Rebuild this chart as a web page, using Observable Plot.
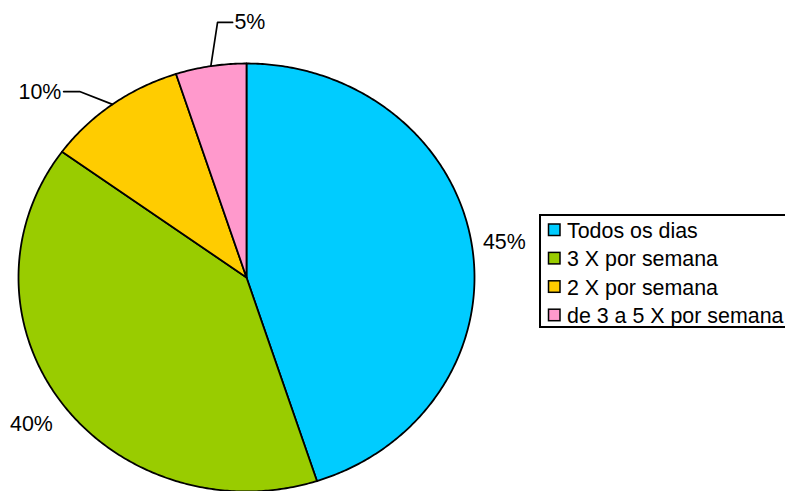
<!DOCTYPE html>
<html>
<head>
<meta charset="utf-8">
<script src="https://cdn.jsdelivr.net/npm/d3@7"></script>
<script src="https://cdn.jsdelivr.net/npm/@observablehq/plot@0.6"></script>
<style>
  html, body { margin: 0; padding: 0; background: #fff; }
  #wrap { position: relative; width: 785px; height: 491px; overflow: hidden; font-family: "Liberation Sans", Arial, sans-serif; }
  #wrap svg { position: absolute; left: 0; top: 0; }
</style>
</head>
<body>
<div id="wrap"></div>
<script>
// ---- data ----
const categories = ["Todos os dias", "3 X por semana", "2 X por semana", "de 3 a 5 X por semana"];
const values = [45, 40, 10, 5];
const labels = ["45%", "40%", "10%", "5%"];
const colors = ["#00CCFF", "#99CC00", "#FFCC00", "#FF99CC"];

// ---- label layout (normalized pie units, not data) ----
const labelLayout = [
  {r: 1.05, textAnchor: "start", lineAnchor: "middle", dx: 0, dy: 0},
  {r: 1.05, textAnchor: "end", lineAnchor: "top", dx: 0, dy: 6},
  {leader: [[-0.732, 0.869], [-0.802, 0.869]], at: [-0.812, 0.864], textAnchor: "end"},
  {leader: [[-0.127, 1.192], [-0.061, 1.192]], at: [-0.053, 1.192], textAnchor: "start"}
];

const FONT = "Liberation Sans, Arial, sans-serif";
const FS = 21.4;
const table = categories.map((c, i) => ({category: c, value: values[i], label: labels[i], color: colors[i]}));
const arcs = d3.pie().sort(null).value(d => d.value)(table);

// polygon for each slice, in unit coordinates (x right, y up), angles clockwise from top
const slicePolys = arcs.map(a => {
  const pts = [{x: 0, y: 0}];
  const n = Math.max(4, Math.ceil((a.endAngle - a.startAngle) / 0.01));
  for (let k = 0; k <= n; k++) {
    const t = a.startAngle + (a.endAngle - a.startAngle) * k / n;
    pts.push({x: Math.sin(t), y: Math.cos(t)});
  }
  pts.push({x: 0, y: 0});
  return pts;
});

const marks = [];
slicePolys.forEach((pts, i) => {
  marks.push(Plot.line(pts, {x: "x", y: "y", fill: table[i].color, stroke: "#000", strokeWidth: 1.8, strokeLinejoin: "round"}));
});

const textPts = [];
const leaders = [];
arcs.forEach((a, i) => {
  const L = labelLayout[i];
  const mid = (a.startAngle + a.endAngle) / 2;
  if (L.leader) {
    const pts = [{x: Math.sin(mid), y: Math.cos(mid)}, ...L.leader.map(p => ({x: p[0], y: p[1]}))];
    leaders.push(pts);
    textPts.push({x: L.at[0], y: L.at[1], text: a.data.label, textAnchor: L.textAnchor, lineAnchor: "middle", dx: 0, dy: 0});
  } else {
    textPts.push({x: L.r * Math.sin(mid), y: L.r * Math.cos(mid), text: a.data.label, textAnchor: L.textAnchor, lineAnchor: L.lineAnchor, dx: L.dx, dy: L.dy});
  }
});
leaders.forEach(pts => marks.push(Plot.line(pts, {x: "x", y: "y", stroke: "#000", strokeWidth: 1.7})));
textPts.forEach(t => marks.push(Plot.text([t], {x: "x", y: "y", text: "text", textAnchor: t.textAnchor, lineAnchor: t.lineAnchor, dx: t.dx, dy: t.dy, fontSize: FS, fill: "#000", fontFamily: FONT})));

const chart = Plot.plot({
  width: 785,
  height: 491,
  margin: 0,
  x: {domain: [-1, 1], range: [18, 474], axis: null},
  y: {domain: [-1, 1], range: [491, 63], axis: null},
  style: {fontFamily: FONT, background: "transparent", overflow: "visible"},
  marks
});
document.getElementById("wrap").appendChild(chart);

// ---- legend ----
const lg = d3.select("#wrap").append("svg").attr("width", 785).attr("height", 491);
lg.append("rect").attr("x", 540).attr("y", 215).attr("width", 270).attr("height", 112)
  .attr("fill", "#fff").attr("stroke", "#000").attr("stroke-width", 2);
categories.forEach((c, i) => {
  const base = 238 + i * 28.4;
  lg.append("rect").attr("x", 548.5).attr("y", base - 14).attr("width", 11.5).attr("height", 11.5)
    .attr("fill", colors[i]).attr("stroke", "#000").attr("stroke-width", 1.5);
  lg.append("text").attr("x", 567).attr("y", base).attr("font-size", FS).attr("font-family", FONT)
    .attr("fill", "#000").text(c);
});
</script>
</body>
</html>
